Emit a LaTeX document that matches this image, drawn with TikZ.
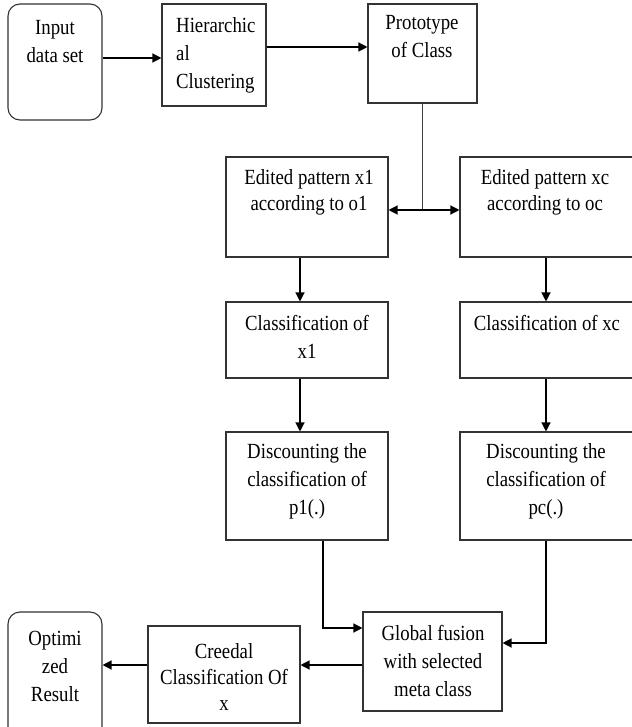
\documentclass[tikz,border=0pt]{standalone}
\usepackage{fontspec}
\setmainfont[FakeStretch=0.87]{Liberation Serif}
\usetikzlibrary{arrows.meta}
\tikzset{
  box/.style={draw=black!80, line width=1.1pt, inner sep=0pt, fill=none},
  rbox/.style={box, rounded corners=12pt},
  txt/.style={inner sep=0pt, anchor=north, align=center, font=\fontsize{21.6}{28}\selectfont},
  tighttxt/.style={txt, font=\fontsize{21.6}{26}\selectfont},
  arr/.style={draw=black, line width=1.3pt, -{Triangle[length=9pt,width=9pt]}},
  darr/.style={draw=black, line width=1.3pt, {Triangle[length=9pt,width=9pt]}-{Triangle[length=9pt,width=9pt]}},
  ln/.style={draw=black!75, line width=1.5pt}
}
\begin{document}
\begin{tikzpicture}[x=1pt,y=-1pt]
\useasboundingbox (0,0) rectangle (631,727);
% boxes
\node[rbox, minimum width=94pt, minimum height=116pt] (in) at (55,62) {};
\node[box, minimum width=104pt, minimum height=102pt] (hc) at (214,55) {};
\node[box, minimum width=109pt, minimum height=99pt] (pr) at (422.5,53.5) {};
\node[box, minimum width=162pt, minimum height=100pt] (e1) at (307,207) {};
\node[box, minimum width=180pt, minimum height=100pt] (ec) at (550,207) {};
\node[box, minimum width=162pt, minimum height=76pt] (c1) at (307,340) {};
\node[box, minimum width=180pt, minimum height=76pt] (cc) at (550,340) {};
\node[box, minimum width=162pt, minimum height=108pt] (d1) at (307,486) {};
\node[box, minimum width=180pt, minimum height=108pt] (dc) at (550,486) {};
\node[box, minimum width=139pt, minimum height=99pt] (gf) at (432.5,661.5) {};
\node[box, minimum width=152pt, minimum height=97pt] (cr) at (224,674.5) {};
\node[rbox, minimum width=94pt, minimum height=133pt] (op) at (55,678.5) {};
% texts
\node[txt] (inT) at (55,20.5) {Input\\data set};
\node[txt, anchor=north west, align=left] (hcT) at (176,17.5) {Hierarchic\\al\\Clustering};
\node[txt] (prT) at (422,15.5) {Prototype\\of Class};
\node[tighttxt] (e1T) at (309,169.5) {Edited pattern x1\\according to o1};
\node[tighttxt] (ecT) at (545,169.5) {Edited pattern xc\\according to oc};
\node[txt] (c1T) at (307,315.5) {Classification of\\x1};
\node[txt] (ccT) at (547,315.5) {Classification of xc};
\node[txt] (d1T) at (307,443.5) {Discounting the\\classification of\\p1(.)};
\node[txt] (dcT) at (546,443.5) {Discounting the\\classification of\\pc(.)};
\node[txt] (gfT) at (433,625.5) {Global fusion\\with selected\\meta class};
\node[tighttxt] (crT) at (224,643.5) {Creedal\\Classification Of\\x};
\node[txt] (opT) at (55,630.5) {Optimi\\zed\\Result};
% helper coordinates
\coordinate (y58) at (0,58);
\coordinate (y47) at (0,47);
\coordinate (jn) at (422.5,210);
\coordinate (xL) at (300,0);
\coordinate (xR) at (546,0);
\coordinate (xD) at (323,0);
\coordinate (y628) at (0,628);
\coordinate (y643) at (0,643);
\coordinate (y665) at (0,665);
% connectors
\draw[arr] (in.east |- y58) -- (hc.west |- y58);
\draw[arr] (hc.east |- y47) -- (pr.west |- y47);
\draw[ln] (pr.south) -- (jn);
\draw[darr] (e1.east |- jn) -- (ec.west |- jn);
\draw[arr] (e1.south -| xL) -- (c1.north -| xL);
\draw[arr] (c1.south -| xL) -- (d1.north -| xL);
\draw[arr] (ec.south -| xR) -- (cc.north -| xR);
\draw[arr] (cc.south -| xR) -- (dc.north -| xR);
\draw[arr] (d1.south -| xD) |- (gf.west |- y628);
\draw[arr] (dc.south -| xR) |- (gf.east |- y643);
\draw[arr] (gf.west |- y665) -- (cr.east |- y665);
\draw[arr] (cr.west |- y665) -- (op.east |- y665);
\end{tikzpicture}
\end{document}
